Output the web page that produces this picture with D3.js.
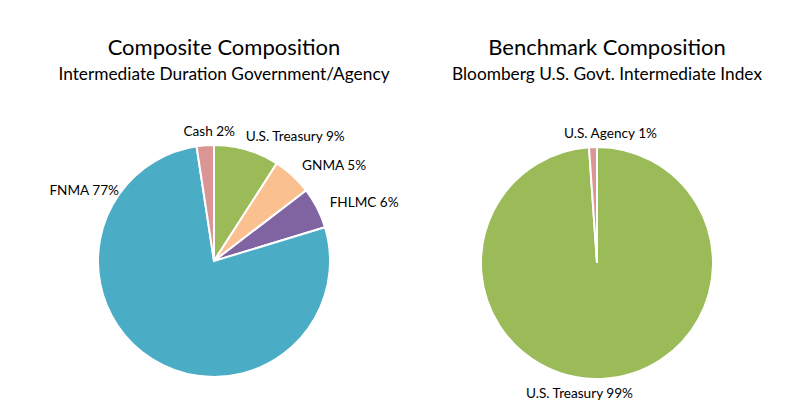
<!DOCTYPE html>
<html>
<head>
<meta charset="utf-8">
<script src="https://cdn.jsdelivr.net/npm/d3@7"></script>
<style>
  body { margin: 0; background: #fff; }
  text { font-family: Lato, "Open Sans", sans-serif; fill: #000; }
</style>
</head>
<body>
<svg id="chart" width="812" height="416"></svg>
<script>
// composite portfolio, clockwise from 12 o'clock
var compNames = ["U.S. Treasury", "GNMA", "FHLMC", "FNMA", "Cash"];
var compValues = [9.1, 5.5, 5.7, 77.3, 2.4];
var compLabels = ["9%", "5%", "6%", "77%", "2%"];
var compColors = ["#9BBB59", "#FAC090", "#8064A2", "#4BACC6", "#D99694"];

// benchmark
var benchNames = ["U.S. Treasury", "U.S. Agency"];
var benchValues = [98.9, 1.1];
var benchLabels = ["99%", "1%"];
var benchColors = ["#9BBB59", "#D99694"];

var svg = d3.select("#chart");
var radius = 116;

// labels that excel moved out of the way (angle in degrees, x nudge in px)
var labelAngleFix = { "FNMA": 303 };
var labelNudge = {
    "bench": { "U.S. Treasury": -22, "U.S. Agency": 18 },
    "comp": { "U.S. Treasury": -5, "Cash": 5, "FNMA": 14 }
};

function drawPie(key, cx, cy, title, subtitle, names, values, labels, colors) {
    var g = svg.append("g");

    g.append("text")
        .attr("x", cx + 10).attr("y", 55)
        .attr("text-anchor", "middle")
        .attr("font-size", "22px")
        .text(title);
    g.append("text")
        .attr("x", cx + 10).attr("y", 80)
        .attr("text-anchor", "middle")
        .attr("font-size", "17.3px")
        .text(subtitle);

    var data = names.map(function (d, i) {
        return { name: d, value: values[i], label: labels[i], color: colors[i] };
    });

    var pie = d3.pie().sort(null).value(function (d) { return d.value; });
    var arc = d3.arc().innerRadius(0).outerRadius(radius);
    var arcs = pie(data);

    var pg = g.append("g").attr("transform", "translate(" + cx + "," + cy + ")");
    pg.selectAll("path").data(arcs).enter()
        .append("path")
        .attr("d", arc)
        .style("fill", function (d) { return d.data.color; })
        .style("stroke", "white")
        .style("stroke-width", 2);

    var lr = radius + 14;
    pg.selectAll("text").data(arcs).enter()
        .append("text")
        .attr("font-size", "13.6px")
        .attr("dominant-baseline", "central")
        .attr("x", function (d) {
            var a = midAngle(d);
            return Math.sin(a) * lr + (labelNudge[key][d.data.name] || 0);
        })
        .attr("y", function (d) {
            var a = midAngle(d);
            return -Math.cos(a) * lr;
        })
        .attr("text-anchor", function (d) {
            var s = Math.sin(midAngle(d));
            if (s > 0.15) return "start";
            if (s < -0.15) return "end";
            return "middle";
        })
        .text(function (d) { return d.data.name + " " + d.data.label; });
}

function midAngle(d) {
    if (labelAngleFix[d.data.name] !== undefined && d.data.value < 90) {
        return labelAngleFix[d.data.name] * Math.PI / 180;
    }
    return (d.startAngle + d.endAngle) / 2;
}

drawPie("comp", 214, 261, "Composite Composition", "Intermediate Duration Government/Agency",
    compNames, compValues, compLabels, compColors);
drawPie("bench", 597, 263, "Benchmark Composition", "Bloomberg U.S. Govt. Intermediate Index",
    benchNames, benchValues, benchLabels, benchColors);
</script>
</body>
</html>
